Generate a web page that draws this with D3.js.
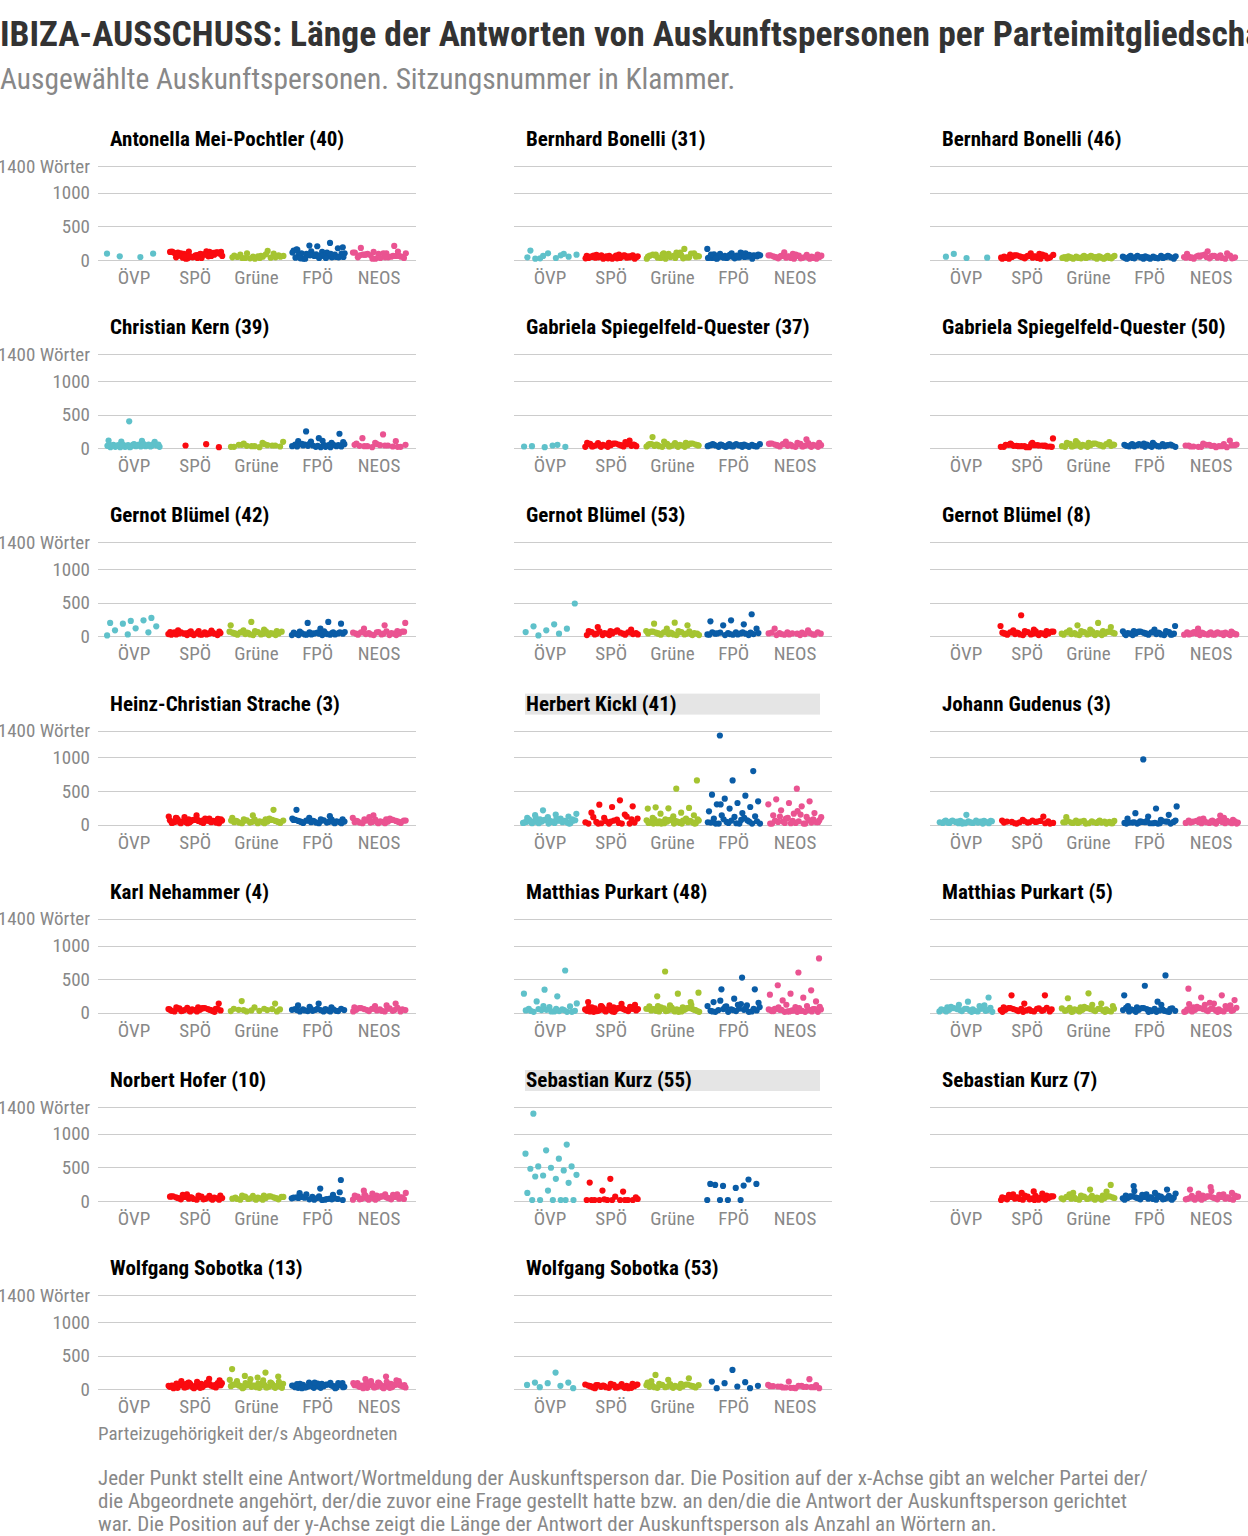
<!DOCTYPE html>
<html><head><meta charset="utf-8">
<script src="https://cdn.jsdelivr.net/npm/d3@7"></script>
<style>
body{margin:0;background:#fff;}
svg{display:block;font-family:"Roboto Condensed","Liberation Sans Narrow","Arial Narrow","DejaVu Sans Condensed",sans-serif;}
</style>
</head><body>
<svg id="chart" width="1248" height="1536"></svg>
<script>
// ---------- DATA ----------
const titleText = "IBIZA-AUSSCHUSS: Länge der Antworten von Auskunftspersonen per Parteimitgliedschaft";
const subtitleText = "Ausgewählte Auskunftspersonen. Sitzungsnummer in Klammer.";
const xAxisTitle = "Parteizugehörigkeit der/s Abgeordneten";
const noteLines = [
  "Jeder Punkt stellt eine Antwort/Wortmeldung der Auskunftsperson dar. Die Position auf der x-Achse gibt an welcher Partei der/",
  "die Abgeordnete angehört, der/die zuvor eine Frage gestellt hatte bzw. an den/die die Antwort der Auskunftsperson gerichtet",
  "war. Die Position auf der y-Achse zeigt die Länge der Antwort der Auskunftsperson als Anzahl an Wörtern an."
];
const parties = ["ÖVP", "SPÖ", "Grüne", "FPÖ", "NEOS"];
const partyColors = ["#5fc1ca", "#fa0a0f", "#a5c431", "#0a5ca6", "#ea5391"];
const yTickValues = [0, 500, 1000, 1400];
const yTickLabels = ["0", "500", "1000", "1400 Wörter"];
const highlighted = ["Herbert Kickl (41)", "Sebastian Kurz (55)"];

const panelTitles = [
  "Antonella Mei-Pochtler (40)", "Bernhard Bonelli (31)", "Bernhard Bonelli (46)",
  "Christian Kern (39)", "Gabriela Spiegelfeld-Quester (37)", "Gabriela Spiegelfeld-Quester (50)",
  "Gernot Blümel (42)", "Gernot Blümel (53)", "Gernot Blümel (8)",
  "Heinz-Christian Strache (3)", "Herbert Kickl (41)", "Johann Gudenus (3)",
  "Karl Nehammer (4)", "Matthias Purkart (48)", "Matthias Purkart (5)",
  "Norbert Hofer (10)", "Sebastian Kurz (55)", "Sebastian Kurz (7)",
  "Wolfgang Sobotka (13)", "Wolfgang Sobotka (53)"
];

// word counts per answer, order: ÖVP, SPÖ, Grüne, FPÖ, NEOS
const meiPochtler40 = [
  [95,45,55,95],
  [90,110,70,40,120,125,60,30,100,80,50,115,130,20,95,75,110,60,45,120,85,35,115,70,100,55,25,120,90,65,105,40,125,80,50,110,30,95,70,60],
  [60,80,95,50,40,85,30,70,55,45,35,25,60,50,30,40,20,65,135,100,50,30],
  [175,205,160,255,215,190,120,100,80,60,140,110,90,50,30,70,40,130,100,60,20,45,85,35,55,75,95,65,25,50,80,110,30,20,40,60,150,90,70,45],
  [180,210,120,110,100,80,60,90,40,50,70,30,100,80,60,20,110,40,90,50,30,70,60,20,100,40,80,125]
];
const bonelli31 = [
  [140,90,60,80,30,20,50,100,40,70,25],
  [40,60,30,50,70,20,45,65,35,55,25,75,40,60,30,50,70,20,45,65,35,55,25,80,40,60,30,50,70,20,45,65,35,55,25],
  [165,100,60,110,80,40,90,50,70,30,100,60,80,40,20,55,75,35,95,45,65,25,85,50,30,70,40,60,20,110],
  [165,110,90,70,50,30,100,60,80,40,20,55,75,35,95,45,65,25,85,50,30,70,40,60,20,100,80,45,35,55,65,25,75,50,30],
  [115,80,60,40,20,50,70,30,60,40,20,55,75,35,45,65,25,50,30,70,40,60,20,80,45,35,55,65,25,50,30,90]
];
const bonelli46 = [
  [90,35,30,50],
  [100,80,60,40,20,50,70,30,60,40,20,55,75,35,45,65,25,50,30,70,40,60,20,80,45,35,55,65,25,50,30,90],
  [60,40,20,50,30,45,55,35,25,60,40,20,50,30,45,55,35,25,60,40,20,50,30,45,55,35,25,60,40,20,50,30,45],
  [60,40,20,50,30,45,55,35,25,60,40,20,50,30,45,55,35,25,60,40,20,50,30,45,55,35,25,60,40,20],
  [130,90,70,50,30,60,40,20,80,45,35,55,65,25,50,30,70,40,60,20,100,45,35,55,65,25,50,30]
];
const kern39 = [
  [400,115,110,100,95,60,50,40,30,20,55,45,35,25,15,60,50,40,30,20,55,45,35,25,15,60,50,40,30,20,55,45,35,25,15,50,40,30],
  [60,40,15],
  [95,80,50,40,30,20,45,35,25,15,50,40,30,20,60,70],
  [250,215,150,105,80,100,60,50,40,30,20,55,45,35,25,15,60,50,40,30,20,55,45,35,25,15,70,90,110,65],
  [205,150,105,80,50,40,30,20,45,35,25,15,50,40,30,20,60,70]
];
const spiegelfeld37 = [
  [40,30,20,15,25,50],
  [115,80,60,40,20,50,70,30,60,40,20,55,75,35,45,65,25,50,30,70,40,60,20,80,45,35,55,65,25,90],
  [165,80,60,40,20,50,70,30,60,40,20,55,75,35,45,65,25,50,30,70,40,60,20,100,45,35,55,65,25,50],
  [60,40,20,50,30,45,55,35,25,60,40,20,50,30,45,55,35,25,60,40,20,50,30,45,55,35,25,60,40,20],
  [130,100,80,60,40,20,50,70,30,60,40,20,55,75,35,45,65,25,50,30,70,40,60,20,80,45,35,55,65,25]
];
const spiegelfeld50 = [
  [],
  [145,80,50,40,30,20,45,35,25,15,50,40,30,20,45,35,25,15,50,40,30,20,60,70,35],
  [105,90,80,60,40,20,50,70,30,60,40,20,55,75,35,45,65,25,50,30,70,40,60,20,80,45,35,55,65,25],
  [80,60,40,20,50,30,45,55,35,25,60,40,20,50,30,45,55,35,25,60,40,20,50,30,70],
  [115,50,40,30,20,45,35,25,15,50,40,30,20,45,35,25,60,70,55,15]
];
const bluemel42 = [
  [275,230,200,240,190,150,120,90,60,30,15],
  [60,40,20,50,30,45,55,35,25,60,40,20,50,30,45,55,35,25,60,40,20,50,30,45,70,80,90,85,75,65],
  [215,165,100,90,80,60,40,20,50,70,30,60,40,20,55,75,35,45,65,25,50,30,70,40,60,20,80,45,35,55],
  [215,200,190,115,70,60,40,20,50,30,45,55,35,25,60,40,20,50,30,45,55,35,25,60,40,20,50,30,65,75],
  [200,165,115,80,60,40,20,50,70,30,60,40,20,55,75,35,45,65,25,50,30,70,40,60,20]
];
const bluemel53 = [
  [490,180,150,115,90,65,40,15],
  [140,100,80,60,40,20,50,70,30,60,40,20,55,75,35,45,65,25,50,30,90,40,60,20,80],
  [205,190,165,115,80,60,40,20,50,70,30,60,40,20,55,75,35,45,65,25,50,30,70,40,60,20,80,45,35,55],
  [330,240,225,180,165,115,60,40,20,50,30,45,55,35,25,60,40,20,50,30,45,55,35,25,60],
  [115,90,60,40,20,50,30,45,55,35,25,60,40,20,50,30,45,55,35,25]
];
const bluemel8 = [
  [],
  [315,155,100,90,80,60,40,20,50,70,30,60,40,20,55,75,35,45,65,25,50,30,70,40,60,20,80,45,35,55],
  [200,165,140,100,90,80,60,40,20,50,70,30,60,40,20,55,75,35,45,65,25,50,30,70,40,60,20,80,45,35],
  [155,100,80,60,40,20,50,70,30,60,40,20,55,75,35,45,65,25,50,30,70,40,60,20,80,45,35,55,65,25],
  [115,70,60,40,20,50,30,45,55,35,25,60,40,20,50,30,45,55,35,25,60,40,20,50,30,45,55,35,25,65]
];
const strache3 = [
  [],
  [137,100,90,80,60,40,20,50,70,30,60,40,20,55,75,35,45,65,25,50,30,70,40,60,20,80,45,35,55,65,25,90,110,85,75,95,50,30,120,60],
  [220,137,100,80,60,40,20,50,70,30,60,40,20,55,75,35,45,65,25,50,30,70,40,60,20,80,45,35,55,90],
  [220,126,100,80,60,40,20,50,70,30,60,40,20,55,75,35,45,65,25,50,30,70,40,60,20,80,45,35,55,90],
  [137,100,80,60,40,20,50,70,30,60,40,20,55,75,35,45,65,25,50,30,70,40,60,20,80,45,35,55,90,110]
];
const kickl41 = [
  [213,160,150,140,120,110,100,90,80,60,40,20,50,70,30,60,40,20,55,75,35,45,65,25,50,30,70,40,60,20,80,45,35,55,65,25,90,100,15,15],
  [361,297,272,262,178,149,99,89,74,40,15,15,15,15,20,30,60,110,120,50,35,25,15,80,45],
  [658,535,257,248,243,238,178,163,139,124,100,90,80,60,40,20,50,70,30,60,40,20,55,75,35,45,65,25,50,30,70,40,60,20,80,45,35,55,65,25,15,15,15,15,15],
  [1327,797,658,446,431,386,347,322,302,262,238,198,173,139,124,114,89,64,40,15,15,15,15,60,30,100,80,50,20,15,45,25,35,70,300],
  [535,376,347,322,302,272,213,173,163,139,114,89,64,50,40,30,20,15,15,45,35,25,60,70,100,110,150,120,80,55,15,15,25,35,200]
];
const gudenus3 = [
  [145,60,40,20,50,30,45,55,35,25,60,40,20,50,30,45,55,35,25,60,40,20,50,30,45,55,35,25,15,15],
  [120,70,60,40,20,50,30,45,55,35,25,60,40,20,50,30,45,15,15,35],
  [110,60,40,20,50,30,45,55,35,25,60,40,20,50,30,45,55,35,25,15,15,35,45,25,20],
  [970,270,240,170,145,120,90,70,50,40,20,30,45,35,25,15,15,15,20,30,50,40,60,25,35,45,55,15,20,30],
  [135,80,70,60,40,20,50,30,45,55,35,25,60,40,20,50,30,45,55,35,25,60,40,20,50,30,100,90,15,15]
];
const nehammer4 = [
  [],
  [138,80,60,40,20,50,70,30,60,40,20,55,75,35,45,65,25,50,30,70,40,60,20,80,45,35,55,65,25,15],
  [175,138,80,60,40,20,50,30,45,55,35,25,60,40,20],
  [138,110,80,60,40,20,50,30,45,55,35,25,60,40,20,50,30,45,55,35,25,60,40,20,90],
  [138,100,80,60,40,20,50,70,30,60,40,20,55,75,35,45,65,25,50,30,70,40,60,20,110]
];
const purkart48 = [
  [630,345,285,245,170,95,85,60,50,40,30,20,15,15,45,35,25,55,15,20,30,40,100,140,60],
  [160,135,100,90,80,60,40,20,50,70,30,60,40,20,55,75,35,45,65,25,50,30,70,40,60,20,80,45,35,55,65,25,90,110,85,75,95,120,15,15],
  [615,300,285,245,160,110,95,80,60,40,20,50,70,30,60,40,20,55,75,35,45,65,25,50,30,70,40,60,20,80,45,35,55,65,25,15,15,100,120,90],
  [525,350,350,210,160,110,95,85,60,40,20,50,30,45,55,35,25,15,15,15,100,130,180,60,40,20,70,90,150,120],
  [810,600,410,335,285,270,225,185,170,85,60,40,20,50,30,45,55,35,25,15,15,15,15,60,40,20,50,30,45,55,35,25,100,120,90,70,80,20,30,40]
];
const purkart5 = [
  [228,165,80,60,40,20,50,70,30,60,40,20,55,75,35,45,65,25,50,30,70,40,60,20,100,120,15,15,90,110],
  [260,260,138,80,60,40,20,50,70,30,60,40,20,55,75,35,45,65,25,50,30,70,40,15,15],
  [290,217,138,80,60,40,20,50,70,30,60,40,20,55,75,35,45,65,25,50,30,70,40,60,20,100,120,15,15,90],
  [556,403,260,165,80,60,40,20,50,70,30,60,40,20,55,75,35,45,65,25,50,30,70,40,15,15,15,15,100,120],
  [360,260,228,190,138,80,60,40,20,50,70,30,60,40,20,55,75,35,45,65,25,50,30,70,40,60,20,100,120,15,15,90,110,150,130]
];
const hofer10 = [
  [],
  [100,80,60,40,20,50,70,30,60,40,20,55,75,35,45,65,25,50,30,70,40,60,20,80,45,35,55,65,25,90],
  [80,60,40,20,50,70,30,60,40,20,55,75,35,45,65,25,50,30,70,40,60,20,80,45,35],
  [313,185,117,90,60,40,20,50,30,45,55,35,25,15,15,60,40,20,50,30,100,130,70,45,25],
  [154,100,80,60,40,20,50,70,30,60,40,20,55,75,35,45,65,25,50,30,70,40,60,20,80,45,35,55,65,25,90,110,120,100,95]
];
const kurz55 = [
  [1300,840,755,705,630,515,515,495,480,455,380,390,330,365,270,155,120,15,15,15,15,15,15],
  [330,275,140,155,55,65,15,15,15,15,15,15,15,15,15,15,25,30],
  [],
  [255,230,225,255,195,240,320,15,15,15,15],
  []
];
const kurz7 = [
  [],
  [143,100,80,60,40,20,50,70,30,60,40,20,55,75,35,45,65,25,50,30,70,40,60,20,80,45,35,55,65,25,90,110,120,15,15],
  [240,170,100,80,60,40,20,50,70,30,60,40,20,55,75,35,45,65,25,50,30,70,40,60,20,80,45,35,120,140],
  [222,170,100,80,60,40,20,50,70,30,60,40,20,55,75,35,45,65,25,50,30,70,40,60,20,80,45,35,55,65,25,90,110,120,150],
  [207,170,100,80,60,40,20,50,70,30,60,40,20,55,75,35,45,65,25,50,30,70,40,60,20,80,45,35,55,65,25,90,110,120,150]
];
const sobotka13 = [
  [],
  [153,100,90,80,60,40,20,50,70,30,60,40,20,55,75,35,45,65,25,50,30,70,40,60,20,80,45,35,55,65,25,90,110,85,75,95,50,30,120,60,15,15,100,80,130],
  [300,248,198,188,173,120,100,90,80,60,40,20,50,70,30,60,40,20,55,75,35,45,65,25,50,30,70,40,60,20,80,45,35,55,65,25,90,110,85,75,95,150,140,130,15],
  [100,90,80,60,40,20,50,70,30,60,40,20,55,75,35,45,65,25,50,30,70,40,60,20,80,45,35,55,65,25,90,85,75,95,50,30,60,15,15,100],
  [188,150,120,100,90,80,60,40,20,50,70,30,60,40,20,55,75,35,45,65,25,50,30,70,40,60,20,80,45,35,55,65,25,90,110,85,75,95,50,30,120,60,15,15,130]
];
const sobotka53 = [
  [248,99,99,89,64,50,30,15],
  [80,60,40,20,50,70,30,60,40,20,55,75,35,45,65,25,50,30,70,40,60,20,80,45,35,55,65,25,15,15],
  [213,163,139,100,80,60,40,20,50,70,30,60,40,20,55,75,35,45,65,25,50,30,70,40,60,20,80,45,35,120],
  [287,114,104,89,50,40,15,15],
  [149,114,64,50,40,30,20,45,35,25,15,50,40,30,20,45,35,25,60,15]
];

const panelValues = [
  meiPochtler40, bonelli31, bonelli46, kern39, spiegelfeld37, spiegelfeld50,
  bluemel42, bluemel53, bluemel8, strache3, kickl41, gudenus3,
  nehammer4, purkart48, purkart5, hofer10, kurz55, kurz7, sobotka13, sobotka53
];

// ---------- LAYOUT ----------
const svg = d3.select("#chart");
const colX = [98, 514, 930];
const panelW = 318;
const firstBaseline = 260;
const rowStep = 188.2;
const plotH = 94;
const jitterHalf = 27;

svg.append("text").attr("x", 0).attr("y", 46)
  .attr("font-size", 35.5).attr("font-weight", 700).attr("fill", "#333")
  .text(titleText);
svg.append("text").attr("x", 0).attr("y", 89)
  .attr("font-size", 29.4).attr("fill", "#888")
  .text(subtitleText);

const x = d3.scalePoint().domain(parties).range([36, 281]);
const color = d3.scaleOrdinal().domain(parties).range(partyColors);

panelTitles.forEach((title, p) => {
  const col = p % 3, row = Math.floor(p / 3);
  const x0 = colX[col];
  const y0 = firstBaseline + row * rowStep;
  const g = svg.append("g").attr("transform", `translate(${x0},0)`);
  const y = d3.scaleLinear().domain([0, 1400]).range([y0, y0 - plotH]);

  if (highlighted.includes(title)) {
    g.append("rect").attr("x", 11).attr("y", y0 - 131).attr("width", 295).attr("height", 21)
      .attr("fill", "#e5e5e5");
  }
  g.append("text").attr("x", 12).attr("y", y0 - 114)
    .attr("font-size", 21).attr("font-weight", 700).attr("fill", "#000")
    .text(title);

  // gridlines
  g.selectAll("line.grid").data(yTickValues).enter().append("line")
    .attr("x1", 0).attr("x2", panelW)
    .attr("y1", d => Math.round(y(d)) + 0.5).attr("y2", d => Math.round(y(d)) + 0.5)
    .attr("stroke", "#cccccc").attr("stroke-width", 1);

  if (col === 0) {
    g.selectAll("text.ytick").data(yTickValues).enter().append("text")
      .attr("x", -8).attr("y", d => y(d) + 6.5)
      .attr("text-anchor", "end").attr("font-size", 19).attr("fill", "#888")
      .text((d, i) => yTickLabels[i]);
  }

  // x tick labels
  g.selectAll("text.xtick").data(parties).enter().append("text")
    .attr("x", d => x(d)).attr("y", y0 + 24)
    .attr("text-anchor", "middle").attr("font-size", 19).attr("fill", "#888")
    .text(d => d);

  // points
  parties.forEach((party, k) => {
    const vals = panelValues[p][k];
    const pts = vals.map((v, i) => {
      const u = ((i * 0.6180339887 + p * 0.137 + k * 0.291) % 1);
      return { v, dx: (u - 0.5) * 2 * jitterHalf };
    });
    g.selectAll(null).data(pts).enter().append("circle")
      .attr("cx", d => x(party) + d.dx)
      .attr("cy", d => y(d.v))
      .attr("r", 3.1)
      .attr("fill", color(party));
  });
});

svg.append("text").attr("x", 98).attr("y", 1440)
  .attr("font-size", 19).attr("fill", "#888").text(xAxisTitle);

svg.selectAll("text.note").data(noteLines).enter().append("text")
  .attr("x", 98).attr("y", (d, i) => 1485 + i * 23)
  .attr("font-size", 21).attr("fill", "#888").text(d => d);
</script>
</body></html>
